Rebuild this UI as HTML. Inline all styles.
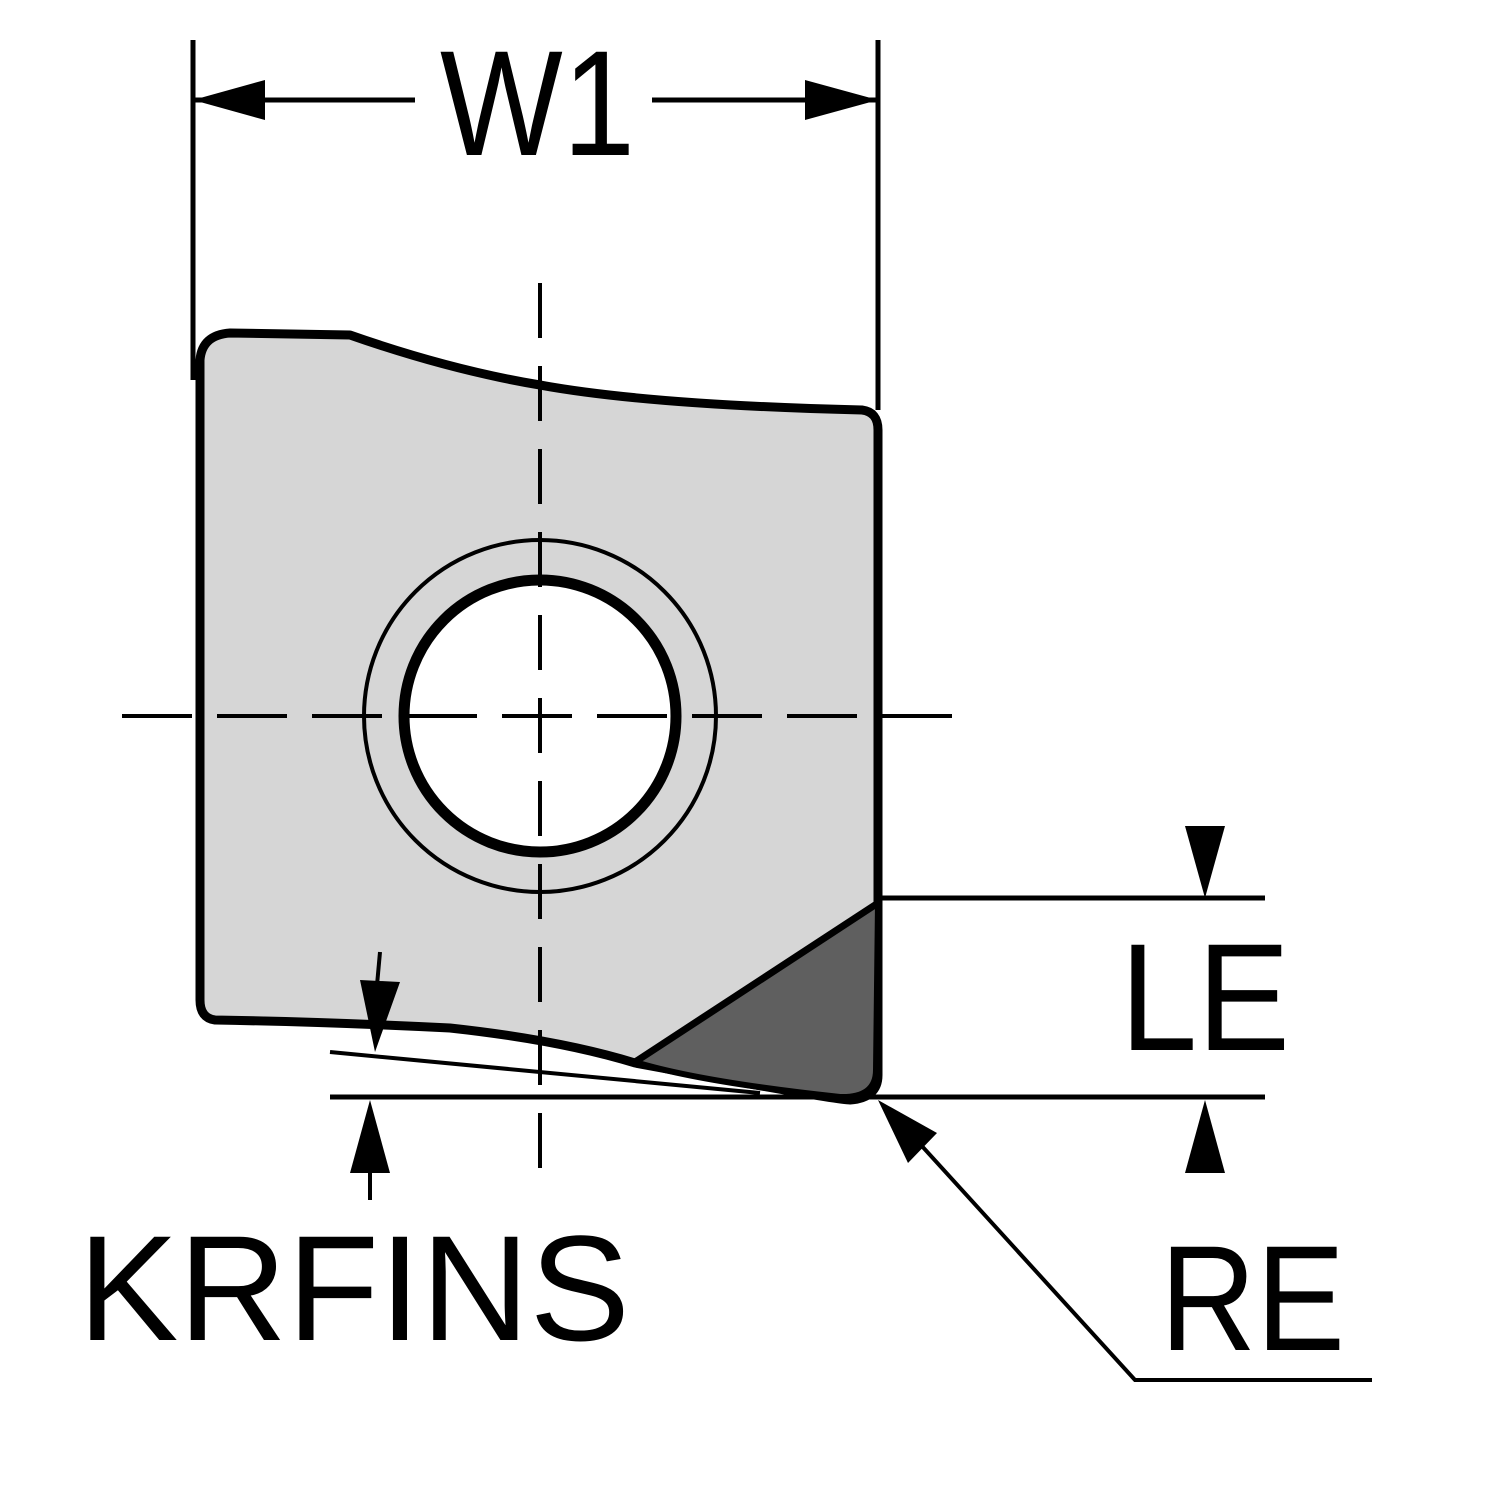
<!DOCTYPE html>
<html><head><style>html,body{margin:0;padding:0;background:#fff}svg{display:block}</style></head><body>
<svg width="1500" height="1500" viewBox="0 0 1500 1500" xmlns="http://www.w3.org/2000/svg">
<path d="M230,333 L350,335 Q450,370 540,385 Q650,405 862,410 Q878,412 878,430 L878,1075 Q878,1098 850,1100 Q835,1100 635,1063 Q560,1040 450,1028 Q330,1022 215,1020 Q200,1018 200,1000 L200,360 Q202,335 230,333 Z" fill="#d6d6d6" stroke="#000" stroke-width="9" stroke-linejoin="round"/>
<path d="M878,903 L635,1062 Q700,1082 840,1097 Q876,1098 876,1070 Z" fill="#5f5f5f" stroke="#000" stroke-width="6" stroke-linejoin="round"/>
<path d="M878,903 L635,1062" stroke="#000" stroke-width="7"/>
<circle cx="540" cy="716" r="176" fill="none" stroke="#000" stroke-width="4"/>
<circle cx="540" cy="716" r="136" fill="#fff" stroke="#000" stroke-width="11"/>
<line x1="122" y1="716" x2="968" y2="716" stroke="#000" stroke-width="4" stroke-dasharray="70,25"/>
<line x1="540" y1="283" x2="540" y2="1180" stroke="#000" stroke-width="4" stroke-dasharray="55,28"/>
<line x1="193" y1="40" x2="193" y2="380" stroke="#000" stroke-width="5"/>
<line x1="878" y1="40" x2="878" y2="410" stroke="#000" stroke-width="5"/>
<line x1="193" y1="100" x2="415" y2="100" stroke="#000" stroke-width="5"/>
<line x1="652" y1="100" x2="878" y2="100" stroke="#000" stroke-width="5"/>
<polygon points="193,100 265,80 265,120" fill="#000"/>
<polygon points="878,100 805,80 805,120" fill="#000"/>
<text x="440" y="155" font-family="Liberation Sans, sans-serif" font-size="150" textLength="195" lengthAdjust="spacingAndGlyphs">W1</text>
<line x1="878" y1="898" x2="1265" y2="898" stroke="#000" stroke-width="5"/>
<line x1="330" y1="1097" x2="1265" y2="1097" stroke="#000" stroke-width="5"/>
<polygon points="1185,826 1225,826 1205,898" fill="#000"/>
<polygon points="1185,1173 1225,1173 1205,1100" fill="#000"/>
<text x="1120" y="1050" font-family="Liberation Sans, sans-serif" font-size="153" textLength="170" lengthAdjust="spacingAndGlyphs">LE</text>
<line x1="330" y1="1052" x2="760" y2="1093" stroke="#000" stroke-width="4"/>
<line x1="380" y1="952" x2="377" y2="985" stroke="#000" stroke-width="4"/>
<polygon points="360,980 400,982 375,1052" fill="#000"/>
<polygon points="350,1173 390,1173 370,1100" fill="#000"/>
<line x1="370" y1="1170" x2="370" y2="1200" stroke="#000" stroke-width="4"/>
<text x="78" y="1340" font-family="Liberation Sans, sans-serif" font-size="150" textLength="552" lengthAdjust="spacingAndGlyphs">KRFINS</text>
<polyline points="900,1122 1135,1380 1372,1380" fill="none" stroke="#000" stroke-width="4"/>
<polygon points="878,1100 937,1133 908,1163" fill="#000"/>
<text x="1160" y="1350" font-family="Liberation Sans, sans-serif" font-size="150" textLength="185" lengthAdjust="spacingAndGlyphs">RE</text>
</svg>
</body></html>
